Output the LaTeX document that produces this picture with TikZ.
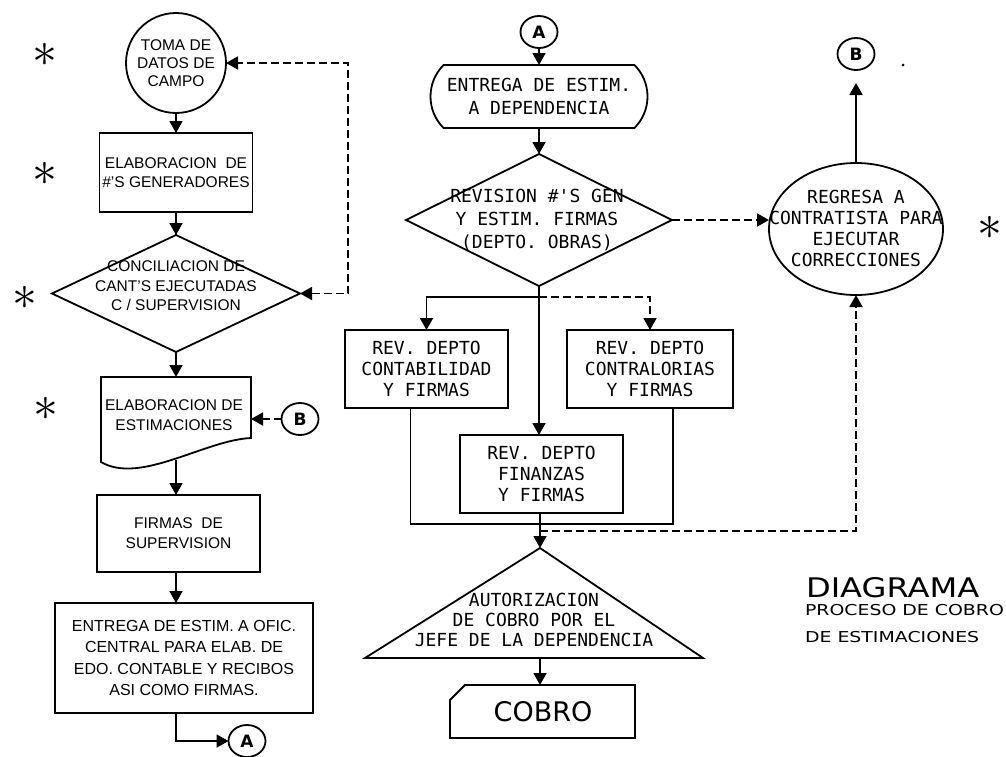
\documentclass[tikz,border=0pt]{standalone}
\usepackage{fontspec}
\setmainfont{Liberation Sans}
\newfontfamily\monofam{DejaVu Sans Mono}
\newfontfamily\dvsans{DejaVu Sans}
\newfontfamily\titlefam[FakeStretch=1.19]{DejaVu Sans}
\newfontfamily\subtitlefam[FakeStretch=1.26]{DejaVu Sans}
\usetikzlibrary{arrows.meta,shapes.geometric,shapes.misc}
\begin{document}
\begin{tikzpicture}[x=1pt,y=-1pt,
  every node/.style={inner sep=0pt,outer sep=0pt},
  lw/.style={line width=1.8pt},
  box/.style={draw,lw,rectangle,align=center},
  lfont/.style={font=\fontsize{15.5}{19.5}\selectfont,align=center},
  mfont/.style={font=\monofam\fontsize{18}{21}\selectfont,align=center},
  arr/.style={lw,-{Triangle[length=12pt,width=13pt]}},
  dsh/.style={dash pattern=on 8pt off 4pt},
  conn/.style={draw,lw,ellipse,minimum width=37pt,minimum height=32pt,font=\dvsans\bfseries\fontsize{17}{17}\selectfont},
  starmark/.style={font=\fontsize{20}{20}\selectfont}
]
\useasboundingbox (0,0) rectangle (1006,756);
\fill[white] (0,0) rectangle (1006,756);

% ---------------- left column ----------------
\coordinate (L) at (176,0);
\node[draw,lw,circle,minimum size=100pt,align=center,font=\fontsize{15.5}{18}\selectfont] (toma) at (176,63) {TOMA DE\\DATOS DE\\CAMPO};
\node[box,lfont,minimum width=153pt,minimum height=79pt] (gen) at (176,172.5) {ELABORACION\ \ DE\\\#'S GENERADORES};
\node[draw,lw,diamond,minimum width=248pt,minimum height=117pt] (concil) at (176,293.5) {};
\node[lfont] (concilt) at (176,286) {CONCILIACION DE\\CANT'S EJECUTADAS\\C / SUPERVISION};

\coordinate (docTL) at (101,377);
\coordinate (docTR) at (251,377);
\coordinate (docT) at (176,377);
\coordinate (docB) at (176,460);
\coordinate (docR) at (251,419);
\draw[lw] (docTL) -- (docTR) -- (251,438) .. controls (205,440) and (140,485) .. (101,462) -- cycle;
\node[lfont,font=\fontsize{15.5}{20}\selectfont] (estim) at (174,415) {ELABORACION DE\\ESTIMACIONES};
\node[conn] (B1) at (300,419) {B};

\node[box,lfont,font=\fontsize{15.5}{20}\selectfont,minimum width=163pt,minimum height=77pt] (firmas) at (178.5,533.5) {FIRMAS\ \ DE\\SUPERVISION};
\node[box,align=center,font=\fontsize{16}{21.5}\selectfont,minimum width=258pt,minimum height=110pt] (entrega) at (184,658) {ENTREGA DE ESTIM. A OFIC.\\CENTRAL PARA ELAB. DE\\EDO. CONTABLE Y RECIBOS\\ASI COMO FIRMAS.};
\node[conn] (A1) at (247,741) {A};

\node[starmark] (s1) at (45,55) {\scalebox{2.4}{$\ast$}};
\node[starmark] (s2) at (45,174) {\scalebox{2.4}{$\ast$}};
\node[starmark] (s3) at (25,298) {\scalebox{2.4}{$\ast$}};
\node[starmark] (s4) at (46,409) {\scalebox{2.4}{$\ast$}};

% ---------------- middle column ----------------
\node[conn] (A2) at (539,32) {A};
\node[draw,lw,rounded rectangle,rounded rectangle arc length=90,minimum width=217pt,minimum height=63pt,mfont,font=\monofam\fontsize{18}{23}\selectfont] (entdep) at (539,96.5) {ENTREGA DE ESTIM.\\A DEPENDENCIA};
\node[draw,lw,diamond,minimum width=266pt,minimum height=132pt] (rev) at (539,220) {};
\node[mfont,font=\monofam\fontsize{18}{23}\selectfont] (revt) at (537,220) {REVISION \#'S GEN\\Y ESTIM. FIRMAS\\(DEPTO. OBRAS)};

\node[box,mfont,minimum width=163pt,minimum height=78pt] (contab) at (426.5,369) {REV. DEPTO\\CONTABILIDAD\\Y FIRMAS};
\node[box,mfont,minimum width=166pt,minimum height=78pt] (contral) at (650,369) {REV. DEPTO\\CONTRALORIAS\\Y FIRMAS};
\node[box,mfont,minimum width=163pt,minimum height=78pt] (fin) at (541.5,474) {REV. DEPTO\\FINANZAS\\Y FIRMAS};

\coordinate (tA) at (540,548);
\coordinate (tL) at (365,658);
\coordinate (tR) at (703,658);
\coordinate (tB) at (540,658);
\draw[lw,line join=miter] (tA) -- (tR) -- (tL) -- cycle;
\node[mfont,font=\monofam\fontsize{18}{20}\selectfont] (autor) at (534,620) {AUTORIZACION\\DE COBRO POR EL\\JEFE DE LA DEPENDENCIA};

\coordinate (cobT) at (540,685);
\draw[lw] (465,685) -- (635,685) -- (635,738) -- (450,738) -- (450,700) -- cycle;
\node[font=\dvsans\fontsize{27}{27}\selectfont] (cobro) at (543,712) {COBRO};

% ---------------- right column ----------------
\node[draw,lw,ellipse,minimum width=174pt,minimum height=132pt] (reg) at (856,229) {};
\node[mfont] (regt) at (856,228) {REGRESA A\\CONTRATISTA PARA\\EJECUTAR\\CORRECCIONES};
\node[conn] (B2) at (856,54) {B};
\fill (903,65) circle (1.5pt);
\node[starmark] (s5) at (990,228) {\scalebox{2.4}{$\ast$}};

\node[font=\titlefam\fontsize{27}{27}\selectfont,anchor=base west] (diag) at (806,597) {DIAGRAMA};
\node[font=\subtitlefam\fontsize{15}{15}\selectfont,anchor=base west] (proc) at (805,615) {PROCESO DE COBRO};
\node[font=\subtitlefam\fontsize{15}{15}\selectfont,anchor=base west] (estm) at (805,642) {DE ESTIMACIONES};

% ---------------- connectors ----------------
\draw[arr] (toma.south) -- (gen.north);
\draw[arr] (gen.south) -- (concil.north);
\draw[arr] (concil.south) -- (docT);
\coordinate (loop) at (348,293.5);
\draw[lw,dsh,{Triangle[length=12pt,width=13pt]}-{Triangle[length=12pt,width=13pt]}] (concil.east) -- (loop) |- (toma.east);
\draw[arr,dsh] (B1.west) -- (docR);
\draw[arr] (docB) -- (docB |- firmas.north);
\draw[arr] (firmas.south -| L) -- (entrega.north -| L);
\draw[arr] (entrega.south -| L) |- (A1.west);

\draw[arr] (A2.south) -- (entdep.north);
\draw[arr] (entdep.south) -- (rev.north);
\draw[arr] (rev.south) -- (rev.south |- fin.north);
\coordinate (sp) at (539,297);
\draw[arr] (sp) -| (contab.north);
\draw[arr,dsh] (sp) -| (contral.north);
\coordinate (jn) at (540,524);
\draw[lw] ([xshift=-16pt]contab.south) |- (jn) -| ([xshift=23pt]contral.south);
\draw[arr] (fin.south -| tA) -- (tA);
\draw[arr] (tB) -- (cobT);
\coordinate (jd) at (540,531);
\draw[arr,dsh] (jd) -| (reg.south);
\draw[arr,dsh] (rev.east) -- (rev.east -| reg.west);
\draw[arr,shorten >=13pt] (reg.north) -- (B2.south);
\end{tikzpicture}
\end{document}
